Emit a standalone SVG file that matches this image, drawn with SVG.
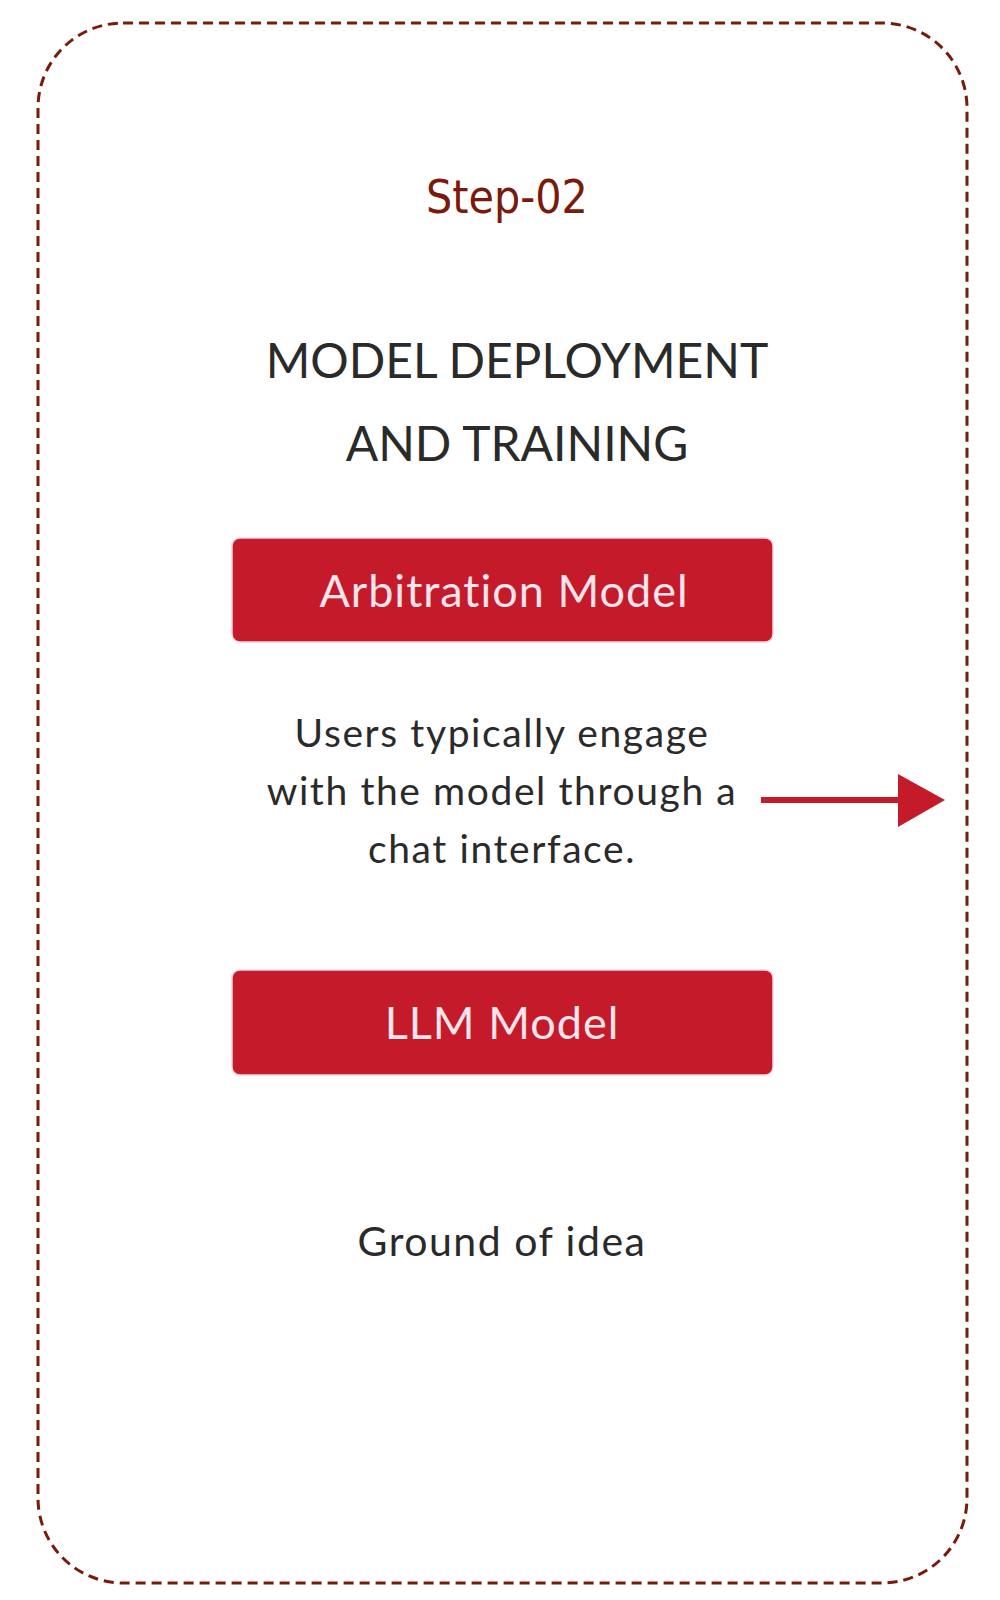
<svg xmlns="http://www.w3.org/2000/svg" width="1000" height="1600" viewBox="0 0 1000 1600">
<style>
.t{font-family:"Lato","Open Sans",sans-serif;fill:#2a2a2a;text-anchor:middle}
.btn{fill:#c41a2a;stroke:#f3d4dc;stroke-width:1.5}
.bt{font-family:"Lato","Open Sans",sans-serif;fill:#fbe4ec;font-size:45px;text-anchor:middle;letter-spacing:1px}
</style>
<rect width="1000" height="1600" fill="#fff"/>
<rect x="38" y="23" width="929" height="1560" rx="85" fill="none" stroke="#7a1a0a" stroke-width="3" stroke-dasharray="10,6"/>
<g id="step"><text x="507" y="213" font-family="DejaVu Sans Condensed, sans-serif" font-size="46" fill="#7a1a0a" text-anchor="middle">Step-02</text></g>
<g id="title"><text class="t" x="517" y="378" font-size="48">MODEL DEPLOYMENT</text><text class="t" x="517" y="461" font-size="48">AND TRAINING</text></g>
<g id="arbitration"><rect class="btn" x="232" y="538" width="541" height="104" rx="8"/><text class="bt" x="504" y="607">Arbitration Model</text></g>
<g id="desc"><text class="t" x="502" y="747" font-size="39" letter-spacing="1.6">Users typically engage</text><text class="t" x="502" y="805" font-size="39" letter-spacing="1.6">with the model through a</text><text class="t" x="502" y="863" font-size="39" letter-spacing="1.6">chat interface.</text></g>
<g id="llm"><rect class="btn" x="232" y="970" width="541" height="105" rx="8"/><text class="bt" x="502" y="1039">LLM Model</text></g>
<g id="ground"><text class="t" x="502" y="1256" font-size="41" letter-spacing="1.5">Ground of idea</text></g>
<g id="connectors"><line x1="761" y1="800" x2="902" y2="800" stroke="#c41a2a" stroke-width="6"/><polygon points="898,774 945,800 898,827" fill="#c41a2a"/></g>
</svg>
